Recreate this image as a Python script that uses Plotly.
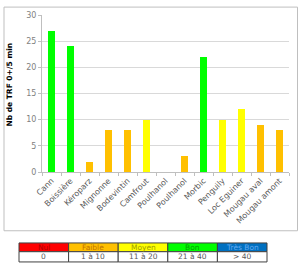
import plotly.graph_objects as go

# ---- data ----
stations = ["Cann", "Boissière", "Kéroparz", "Mignonne", "Bodevintin", "Camfrout",
            "Poulhanol", "Poulhanol", "Morbic", "Penguily", "Loc Eguiner",
            "Mougau aval", "Mougau amont"]
values = [27, 24, 2, 8, 8, 10, 0, 3, 22, 10, 12, 9, 8]

class_names = ["Nul", "Faible", "Moyen", "Bon", "Très Bon"]
class_ranges = ["0", "1 à 10", "11 à 20", "21 à 40", "> 40"]
class_fill = ["#FF0000", "#FFC000", "#FFFF00", "#00FF00", "#0070C0"]
class_text = ["#B00000", "#C07000", "#A0A000", "#00A000", "#60A8F0"]

def bar_color(v):
    if v == 0:
        return class_fill[0]
    if v < 10:
        return class_fill[1]
    if v <= 20:
        return class_fill[2]
    if v <= 40:
        return class_fill[3]
    return class_fill[4]

# ---- layout geometry (pixels) ----
W, H = 300, 268
L, R, T, B = 42, 11, 10.6, 96.3
pw, ph = W - L - R, H - T - B

def px_x(p):
    return (p - L) / pw

def px_y(p):
    return (H - B - p) / ph

FONT = "DejaVu Sans"
xs = list(range(len(stations)))

fig = go.Figure(go.Bar(
    x=xs, y=values, width=0.37,
    marker=dict(color=[bar_color(v) for v in values], line=dict(width=0)),
    hoverinfo="skip",
))

shapes = []
annotations = []

# outer chart border
shapes.append(dict(type="rect", xref="paper", yref="paper",
                   x0=px_x(4), x1=px_x(297.5), y0=px_y(2.5), y1=px_y(232),
                   line=dict(color="#BFBFBF", width=1), fillcolor="rgba(0,0,0,0)", layer="below"))

# y-axis title
annotations.append(dict(text="<b>Nb de TRF 0+/5 min</b>", xref="paper", yref="paper",
                        x=px_x(10), y=px_y(82), textangle=-90, showarrow=False,
                        font=dict(family=FONT, size=7.5, color="#000000"),
                        xanchor="center", yanchor="middle"))

# class legend table
tx0, tx1 = 19, 267
ty0, ty1, ty2 = 244.5, 253.5, 264
cw = (tx1 - tx0) / len(class_names)
for i, (n, rg, fc, tc) in enumerate(zip(class_names, class_ranges, class_fill, class_text)):
    a, b = tx0 + i * cw, tx0 + (i + 1) * cw
    shapes.append(dict(type="rect", xref="paper", yref="paper",
                       x0=px_x(a), x1=px_x(b), y0=px_y(ty1), y1=px_y(ty0),
                       fillcolor=fc, line=dict(color="#404040", width=1)))
    shapes.append(dict(type="rect", xref="paper", yref="paper",
                       x0=px_x(a), x1=px_x(b), y0=px_y(ty2), y1=px_y(ty1),
                       fillcolor="#FFFFFF", line=dict(color="#404040", width=1)))
    annotations.append(dict(text=n, xref="paper", yref="paper",
                            x=px_x((a + b) / 2), y=px_y((ty0 + ty1) / 2),
                            showarrow=False, font=dict(family=FONT, size=7.5, color=tc),
                            xanchor="center", yanchor="middle"))
    annotations.append(dict(text=rg, xref="paper", yref="paper",
                            x=px_x((a + b) / 2), y=px_y((ty1 + ty2) / 2),
                            showarrow=False, font=dict(family=FONT, size=7.5, color="#595959"),
                            xanchor="center", yanchor="middle"))

fig.update_layout(
    width=W, height=H,
    margin=dict(l=L, r=R, t=T, b=B, pad=0),
    paper_bgcolor="white", plot_bgcolor="white",
    showlegend=False, bargap=0,
    font=dict(family=FONT, size=8, color="#7F7F7F"),
    shapes=shapes, annotations=annotations,
    xaxis=dict(
        range=[-0.5, len(stations) - 0.5],
        tickmode="array", tickvals=xs, ticktext=stations,
        tickangle=-45, ticks="", showgrid=False, zeroline=False,
        showline=True, linecolor="#BFBFBF", linewidth=1,
        tickfont=dict(family=FONT, size=8, color="#595959"),
        minor=dict(tickmode="linear", tick0=-0.5, dtick=1, ticks="outside",
                   ticklen=3, tickcolor="#BFBFBF", showgrid=False),
    ),
    yaxis=dict(
        range=[0, 30], dtick=5, showgrid=True, gridcolor="#D9D9D9", gridwidth=1,
        zeroline=False, showline=True, linecolor="#BFBFBF", linewidth=1,
        ticks="outside", ticklen=3, tickcolor="#BFBFBF",
        tickfont=dict(family=FONT, size=8, color="#7F7F7F"),
    ),
)

fig.write_html("out.html")
